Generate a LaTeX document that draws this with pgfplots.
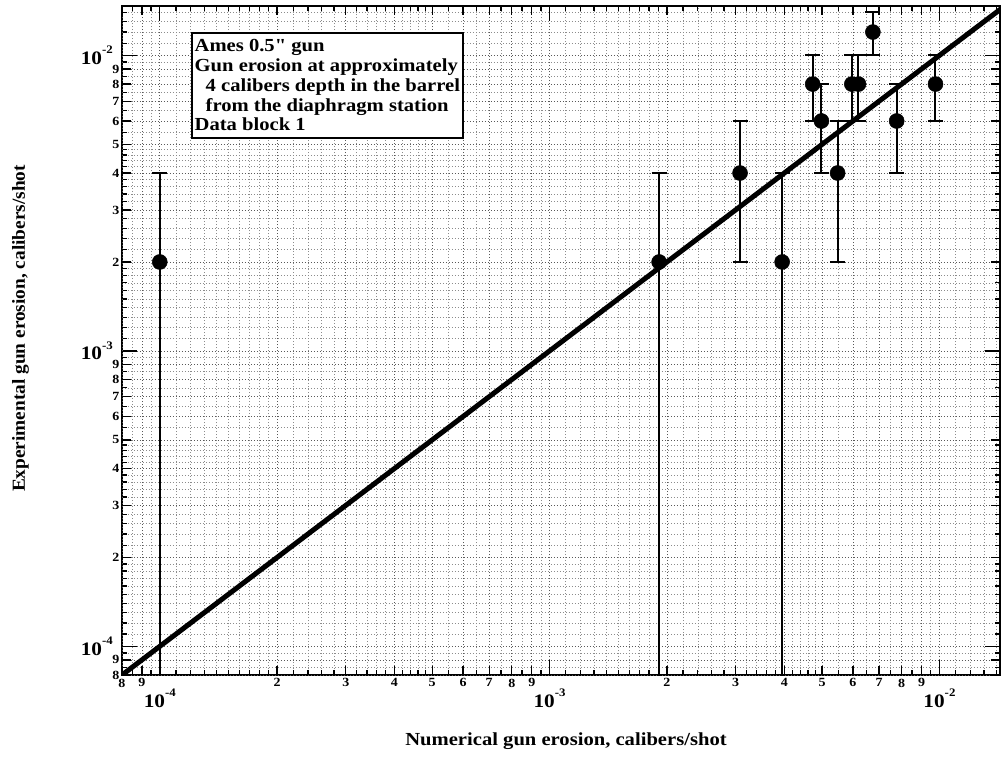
\documentclass[border=0pt]{standalone}
\usepackage{fontspec}
\setmainfont{Liberation Serif}[FakeStretch=1.12, Ligatures=TeXOff]
\newfontfamily\ylabfont{Liberation Serif}[FakeStretch=1.05]
\usepackage{pgfplots}
\usepackage{pgfplotstable}
\pgfplotsset{compat=1.18}

\newcommand{\decl}[1]{\fontsize{19}{19}\selectfont\bfseries 10\raisebox{10.5pt}{\fontsize{11.5}{11.5}\selectfont -#1}}

\pgfplotstableread{
x       y       ep     em
1.00e-4 2.0e-3  2e-3   1.99e-3
1.91e-3 2.0e-3  2e-3   1.99e-3
3.08e-3 4.0e-3  2e-3   2e-3
3.95e-3 2.0e-3  2e-3   1.99e-3
4.73e-3 8.0e-3  2e-3   2e-3
4.98e-3 6.0e-3  2e-3   2e-3
5.48e-3 4.0e-3  2e-3   2e-3
5.96e-3 8.0e-3  2e-3   2e-3
6.20e-3 8.0e-3  2e-3   2e-3
6.75e-3 1.2e-2  2e-3   2e-3
7.77e-3 6.0e-3  2e-3   2e-3
9.77e-3 8.0e-3  2e-3   2e-3
}\erosiondata

\begin{document}
\begin{tikzpicture}
\begin{axis}[
  scale only axis, width=878pt, height=669pt,
  xmode=log, ymode=log,
  xmin=8e-5, xmax=1.43e-2, ymin=8e-5, ymax=1.47e-2,
  axis line style={line width=2.5pt},
  xtick={1e-4,1e-3,1e-2}, xticklabels={\decl{4},\decl{3},\decl{2}},
  ytick={1e-4,1e-3,1e-2}, yticklabels={\decl{4},\decl{3},\decl{2}},
  minor xtick={8.5e-5,9.5e-5,1.1e-4,1.2e-4,1.3e-4,1.4e-4,1.5e-4,1.6e-4,1.7e-4,1.8e-4,1.9e-4,2.2e-4,2.4e-4,2.6e-4,2.8e-4,3.2e-4,3.4e-4,3.6e-4,3.8e-4,4.2e-4,4.4e-4,4.6e-4,4.8e-4,5.5e-4,6.5e-4,7.5e-4,8.5e-4,9.5e-4,1.1e-3,1.2e-3,1.3e-3,1.4e-3,1.5e-3,1.6e-3,1.7e-3,1.8e-3,1.9e-3,2.2e-3,2.4e-3,2.6e-3,2.8e-3,3.2e-3,3.4e-3,3.6e-3,3.8e-3,4.2e-3,4.4e-3,4.6e-3,4.8e-3,5.5e-3,6.5e-3,7.5e-3,8.5e-3,9.5e-3,1.1e-2,1.2e-2,1.3e-2,1.4e-2},
  minor ytick={8.5e-5,9.5e-5,1.1e-4,1.2e-4,1.3e-4,1.4e-4,1.5e-4,1.6e-4,1.7e-4,1.8e-4,1.9e-4,2.2e-4,2.4e-4,2.6e-4,2.8e-4,3.2e-4,3.4e-4,3.6e-4,3.8e-4,4.2e-4,4.4e-4,4.6e-4,4.8e-4,5.5e-4,6.5e-4,7.5e-4,8.5e-4,9.5e-4,1.1e-3,1.2e-3,1.3e-3,1.4e-3,1.5e-3,1.6e-3,1.7e-3,1.8e-3,1.9e-3,2.2e-3,2.4e-3,2.6e-3,2.8e-3,3.2e-3,3.4e-3,3.6e-3,3.8e-3,4.2e-3,4.4e-3,4.6e-3,4.8e-3,5.5e-3,6.5e-3,7.5e-3,8.5e-3,9.5e-3,1.1e-2,1.2e-2,1.3e-2,1.4e-2},
  extra x ticks={8e-5,9e-5,2e-4,3e-4,4e-4,5e-4,6e-4,7e-4,8e-4,9e-4,2e-3,3e-3,4e-3,5e-3,6e-3,7e-3,8e-3,9e-3},
  extra x tick labels={8,9,2,3,4,5,6,7,8,9,2,3,4,5,6,7,8,9},
  extra y ticks={8e-5,9e-5,2e-4,3e-4,4e-4,5e-4,6e-4,7e-4,8e-4,9e-4,2e-3,3e-3,4e-3,5e-3,6e-3,7e-3,8e-3,9e-3},
  extra y tick labels={8,9,2,3,4,5,6,7,8,9,2,3,4,5,6,7,8,9},
  extra x tick style={grid=major, major tick length=9pt, xticklabel shift=3.5pt,
     tick label style={font=\fontsize{12.5}{12.5}\selectfont\bfseries}},
  extra y tick style={grid=major, major tick length=9pt, yticklabel shift=2.5pt,
     tick label style={font=\fontsize{12.5}{12.5}\selectfont\bfseries}},
  xticklabel shift=14pt, yticklabel shift=9pt,
  tick label style={inner sep=0pt},
  tick align=inside,
  major tick length=15pt, minor tick length=5pt,
  every tick/.style={black, line width=1.3pt},
  grid=both,
  major grid style={black!65, line width=0.7pt, dash pattern=on 1pt off 2pt},
  minor grid style={black!45, line width=0.6pt, dash pattern=on 1pt off 2pt},
  xlabel={Numerical gun erosion, calibers/shot},
  ylabel={Experimental gun erosion, calibers/shot},
  xlabel style={at={(axis description cs:0.5057,-0.1061)}, anchor=base, inner sep=0pt,
     font=\fontsize{18.4}{18.4}\selectfont\bfseries},
  ylabel style={at={(axis description cs:-0.1105,0.518)}, anchor=base, inner sep=0pt,
     font=\ylabfont\fontsize{18.4}{18.4}\selectfont\bfseries},
]
\addplot[black, only marks, mark=*, mark size=7.5pt, mark options={line width=0.5pt, fill=black},
  error bars/.cd, y dir=both, y explicit,
  error bar style={line width=2pt, black},
  error mark options={rotate=90, line width=2pt, mark size=7.5pt, black}]
  table[x=x, y=y, y error plus=ep, y error minus=em] {\erosiondata};
\addplot[black, line width=5pt, no marks] coordinates {(8e-5,8e-5) (1.5e-2,1.5e-2)};
\node[draw, line width=2pt, fill=white, anchor=north west, align=left,
  inner xsep=3pt, inner ysep=7pt,
  font=\fontsize{18.4}{19.7}\selectfont\bfseries, xshift=68.7pt, yshift=-25.7pt]
  at (rel axis cs:0,1)
  {Ames 0.5" gun\\ Gun erosion at approximately\\ \hspace*{11pt}4 calibers depth in the barrel\\ \hspace*{11pt}from the diaphragm station\\ Data block 1};
\coordinate (bl) at (rel axis cs:0,0);
\end{axis}
\pgfresetboundingbox
\useasboundingbox (bl) ++(-122pt,-82pt) rectangle ++(1002pt,757pt);
\end{tikzpicture}
\end{document}
